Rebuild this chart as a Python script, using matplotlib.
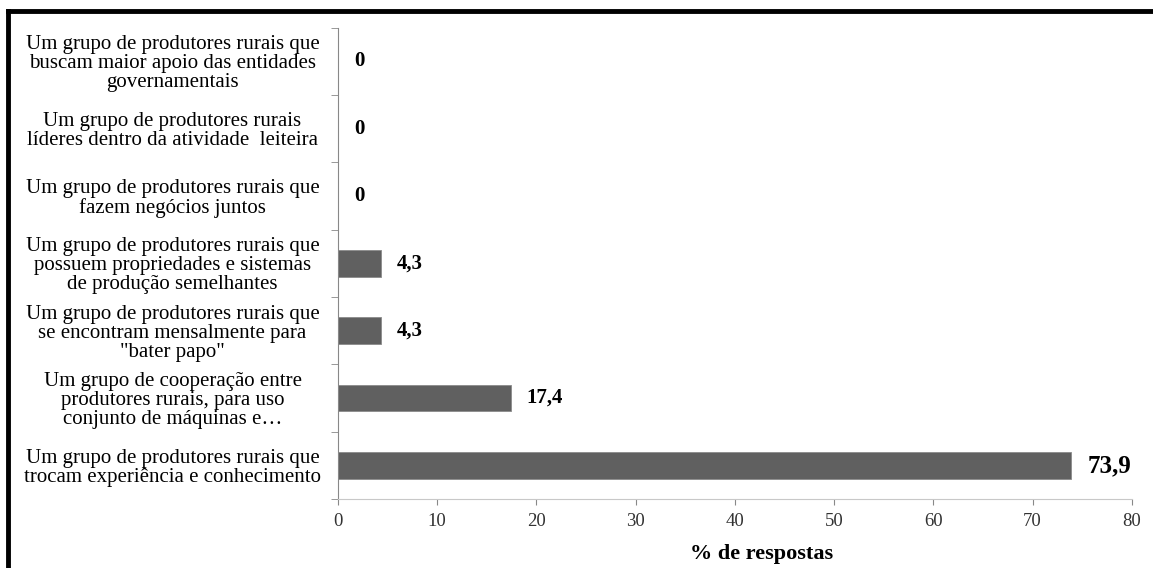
import numpy as np
import matplotlib.pyplot as plt
from matplotlib.lines import Line2D

plt.rcParams['font.family'] = ['Liberation Serif', 'DejaVu Serif']

categorias = [
    'Um grupo de produtores rurais que\ntrocam experiência e conhecimento',
    'Um grupo de cooperação entre\nprodutores rurais, para uso\nconjunto de máquinas e…',
    'Um grupo de produtores rurais que\nse encontram mensalmente para\n"bater papo"',
    'Um grupo de produtores rurais que\npossuem propriedades e sistemas\nde produção semelhantes',
    'Um grupo de produtores rurais que\nfazem negócios juntos',
    'Um grupo de produtores rurais\nlíderes dentro da atividade  leiteira',
    'Um grupo de produtores rurais que\nbuscam maior apoio das entidades\ngovernamentais',
]
valores = [73.9, 17.4, 4.3, 4.3, 0, 0, 0]
rotulos = ['73,9', '17,4', '4,3', '4,3', '0', '0', '0']
xticks = [0, 10, 20, 30, 40, 50, 60, 70, 80]

fig = plt.figure(figsize=(11.53, 5.68), dpi=100)
ax = fig.add_axes([0.293, 0.1215, 0.6886, 0.8295])

y = np.arange(len(categorias))
ax.barh(y, valores, height=0.4, color='#606060', edgecolor='#8a8a8a', linewidth=0.6)

# rotulos dos valores
for yi, v, r in zip(y, valores, rotulos):
    tam = 18 if v > 50 else 15
    ax.annotate(r, (v, yi), xytext=(11.5, 0), textcoords='offset points',
                ha='left', va='center', fontsize=tam, fontweight='bold')

ax.set_xlim(0, 80)
ax.set_ylim(-0.5, len(categorias) - 0.5)
ax.set_xticks(xticks)
ax.set_xticklabels([str(t) for t in xticks], fontsize=13.5, color='#333333')

# categorias como texto, ticks nas divisoes
ax.set_yticks(y)
ax.set_yticklabels(categorias, fontsize=15, ha='center', linespacing=1.0)
ax.tick_params(axis='y', length=0, pad=119)
ax.set_yticks(np.arange(-0.5, len(categorias)), minor=True)
ax.tick_params(axis='y', which='minor', length=5, color='#888888', direction='out')
ax.tick_params(axis='x', length=4, color='#888888', direction='out', pad=6)

for s in ['top', 'right']:
    ax.spines[s].set_visible(False)
ax.spines['left'].set_color('#888888')
ax.spines['bottom'].set_color('#c8c8c8')

ax.set_xlabel('% de respostas', fontsize=16, fontweight='bold')
ax.xaxis.set_label_coords(0.534, -0.095)

# moldura preta (topo e esquerda)
fig.add_artist(Line2D([8 / 1153, 1], [1 - 11 / 568, 1 - 11 / 568], color='black', linewidth=3.5,
                      transform=fig.transFigure))
fig.add_artist(Line2D([8 / 1153, 8 / 1153], [0, 1 - 11 / 568], color='black', linewidth=3.5,
                      transform=fig.transFigure))

fig.savefig('out.png', dpi=100)
